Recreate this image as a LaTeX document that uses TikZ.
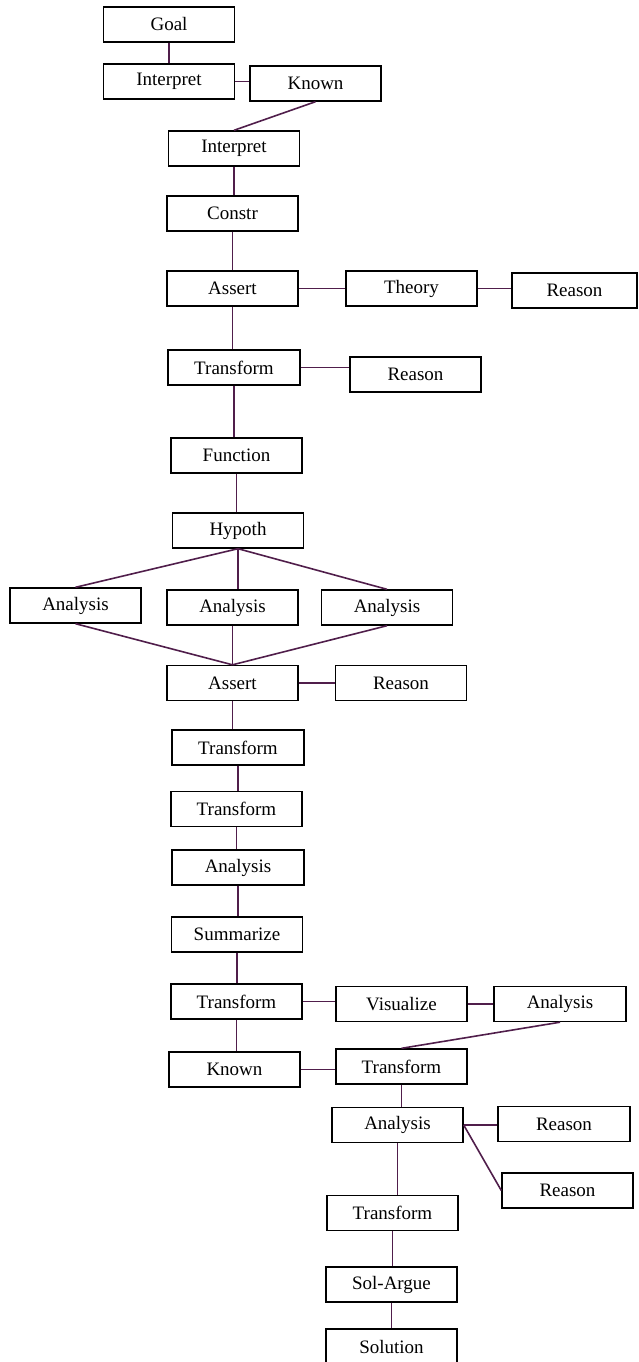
\documentclass[tikz,border=0pt]{standalone}
\usepackage{fontspec}
\setmainfont{Liberation Serif}
\begin{document}
\begin{tikzpicture}[x=1pt,y=-1pt,
  box/.style={draw=black,line width=1.4pt,fill=white,minimum width=131pt,minimum height=35pt,inner sep=0pt,font=\fontsize{19}{21}\selectfont},
  link/.style={draw={rgb,255:red,80;green,30;blue,75},line width=1.6pt}]
\useasboundingbox (0,0) rectangle (638,1362);
% nodes
\node[box] (goal) at (169,24.5) {Goal};
\node[box] (int1) at (169,81.5) {Interpret};
\node[box] (kn1) at (315.5,83.5) {Known};
\node[box] (int2) at (234,148.5) {Interpret};
\node[box] (con) at (232.5,213.5) {Constr};
\node[box] (as1) at (232.5,288.5) {Assert};
\node[box] (th) at (411.5,288.5) {Theory};
\node[box,minimum width=125pt] (re1) at (574.5,290.5) {Reason};
\node[box,minimum width=132pt] (tr1) at (234,367.5) {Transform};
\node[box] (re2) at (415.5,374.5) {Reason};
\node[box] (fun) at (236.5,455.5) {Function};
\node[box] (hyp) at (238,530.5) {Hypoth};
\node[box] (anl) at (75.5,605.5) {Analysis};
\node[box] (anm) at (232.5,607.5) {Analysis};
\node[box] (anr) at (387,607.5) {Analysis};
\node[box] (as2) at (232.5,683) {Assert};
\node[box] (re3) at (401,683) {Reason};
\node[box,minimum width=132pt] (tr2) at (238,747.5) {Transform};
\node[box] (tr3) at (236.5,809) {Transform};
\node[box,minimum width=132pt] (an4) at (238,867.5) {Analysis};
\node[box] (sum) at (237,934.5) {Summarize};
\node[box] (tr4) at (236.5,1001.5) {Transform};
\node[box] (vis) at (401.5,1004) {Visualize};
\node[box,minimum width=132pt] (an5) at (560,1004) {Analysis};
\node[box] (kn2) at (234.5,1069.5) {Known};
\node[box] (tr5) at (401.5,1066.5) {Transform};
\node[box] (an6) at (397.5,1125) {Analysis};
\node[box,minimum width=132pt] (re4) at (564,1124) {Reason};
\node[box] (re5) at (567.5,1190.5) {Reason};
\node[box] (tr6) at (392.5,1213) {Transform};
\node[box] (sol) at (391.5,1284.5) {Sol-Argue};
\node[box] (soln) at (391.5,1346.5) {Solution};
% connectors
\draw[link] (goal.south) -- (goal.south |- int1.north);
\draw[link] (int1.east) -- (int1.east -| kn1.west);
\draw[link] (kn1.south) -- (int2.north);
\draw[link] (int2.south) -- (int2.south |- con.north);
\draw[link] (con.south) -- (con.south |- as1.north);
\draw[link] (as1.east) -- (th.west);
\draw[link] (th.east) -- (th.east -| re1.west);
\draw[link] (as1.south) -- (as1.south |- tr1.north);
\draw[link] (tr1.east) -- (tr1.east -| re2.west);
\draw[link] (tr1.south) -- (tr1.south |- fun.north);
\draw[link] (fun.south) -- (fun.south |- hyp.north);
\draw[link] (hyp.south) -- (anl.north);
\draw[link] (hyp.south) -- (hyp.south |- anm.north);
\draw[link] (hyp.south) -- (anr.north);
\draw[link] (anl.south) -- (as2.north);
\draw[link] (anm.south) -- (anm.south |- as2.north);
\draw[link] (anr.south) -- (as2.north);
\draw[link] (as2.east) -- (re3.west);
\draw[link] (as2.south) -- (as2.south |- tr2.north);
\draw[link] (tr2.south) -- (tr2.south |- tr3.north);
\draw[link] (tr3.south) -- (tr3.south |- an4.north);
\draw[link] (an4.south) -- (an4.south |- sum.north);
\draw[link] (sum.south) -- (sum.south |- tr4.north);
\draw[link] (tr4.east) -- (tr4.east -| vis.west);
\draw[link] (vis.east) -- (an5.west);
\draw[link] (tr4.south) -- (tr4.south |- kn2.north);
\draw[link] (an5.south) -- (tr5.north);
\draw[link] (kn2.east) -- (kn2.east -| tr5.west);
\draw[link] (tr5.south) -- (tr5.south |- an6.north);
\draw[link] (an6.east) -- (an6.east -| re4.west);
\draw[link] (an6.east) -- (re5.west);
\draw[link] (an6.south) -- (an6.south |- tr6.north);
\draw[link] (tr6.south) -- (tr6.south |- sol.north);
\draw[link] (sol.south) -- (sol.south |- soln.north);
\end{tikzpicture}
\end{document}
